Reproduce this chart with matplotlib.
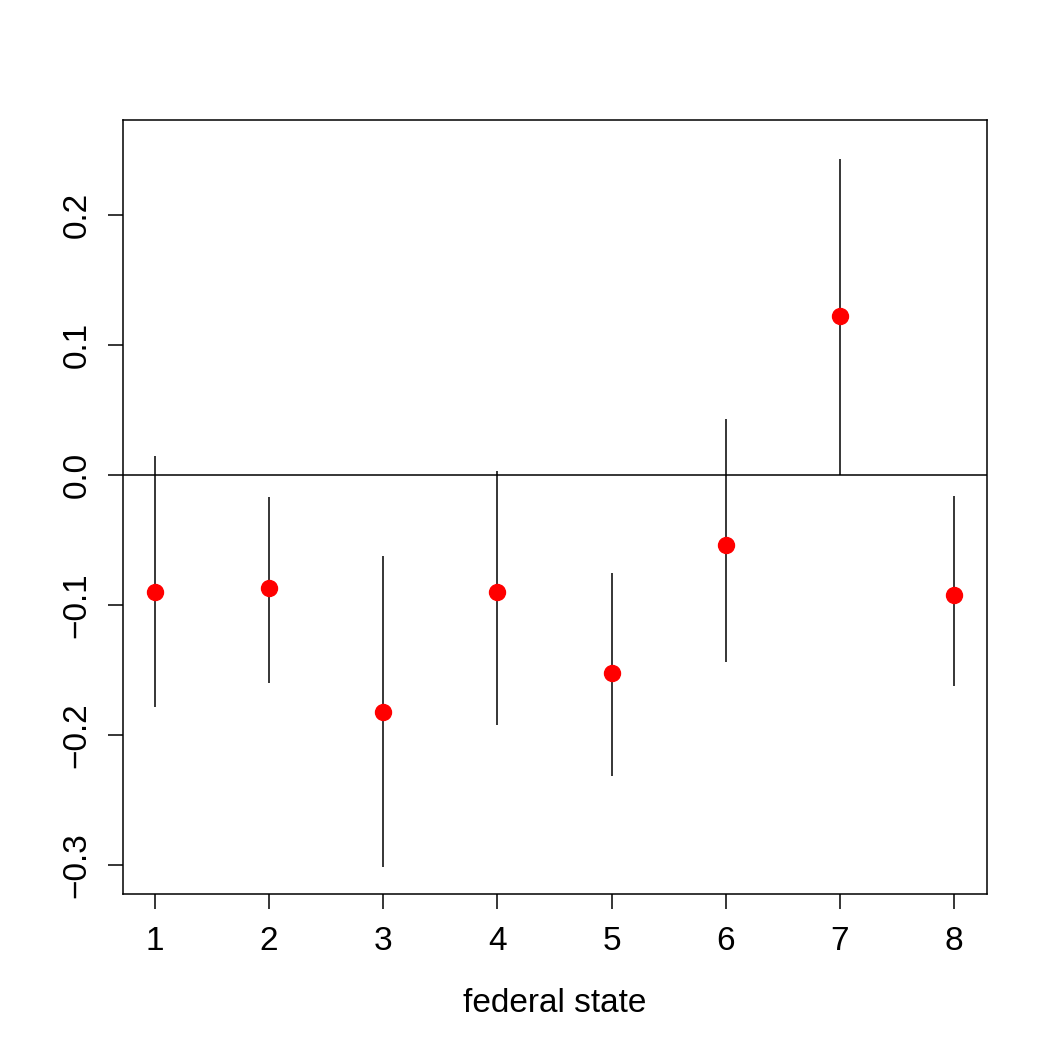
import matplotlib.pyplot as plt

plt.rcParams['font.family'] = ['Liberation Sans', 'DejaVu Sans']

# states, point estimates and interval bounds
states = [1, 2, 3, 4, 5, 6, 7, 8]
estimate = [-0.090, -0.087, -0.182, -0.090, -0.152, -0.054, 0.122, -0.092]
lower = [-0.178, -0.160, -0.301, -0.192, -0.231, -0.144, 0.000, -0.162]
upper = [0.015, -0.017, -0.062, 0.003, -0.075, 0.043, 0.243, -0.016]

fig = plt.figure(figsize=(10.48, 10.48), dpi=100)
ax = fig.add_axes([0.1174, 0.1469, 0.8244, 0.7386])

ax.vlines(states, lower, upper, color='black', linewidth=1.1)
ax.plot(states, estimate, 'o', color='red', markersize=11.5, zorder=3)
ax.axhline(0, color='black', linewidth=1.1)

ax.set_xlim(0.72, 8.29)
ax.set_ylim(-0.322, 0.273)
ax.set_xticks(states)
ax.set_yticks([-0.3, -0.2, -0.1, 0.0, 0.1, 0.2])
ax.set_yticklabels(['\u22120.3', '\u22120.2', '\u22120.1', '0.0', '0.1', '0.2'],
                   rotation=90, va='center')
ax.tick_params(axis='both', labelsize=24, length=11, width=1.1, pad=12)
ax.tick_params(axis='y', pad=11)
for s in ax.spines.values():
    s.set_linewidth(1.1)

ax.set_xlabel('federal state', fontsize=24, labelpad=22)

fig.savefig('out.png', dpi=100)
